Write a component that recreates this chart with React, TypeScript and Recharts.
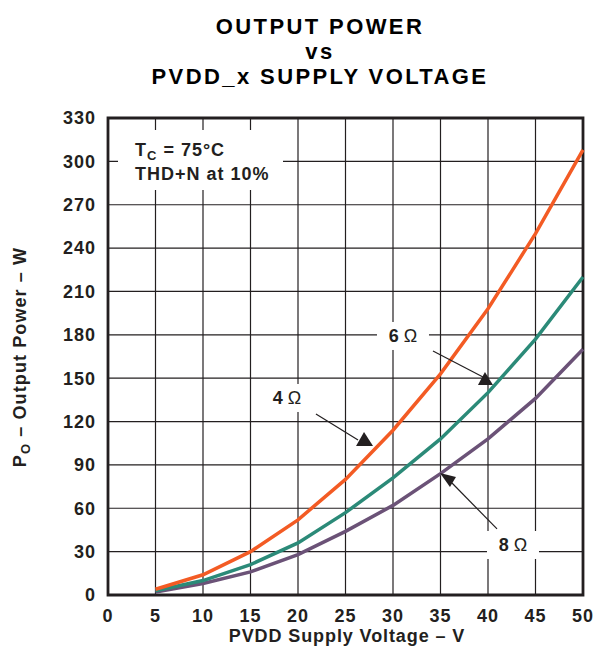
import React from 'react';
import {
  LineChart, Line, XAxis, YAxis, CartesianGrid,
  ReferenceArea, ReferenceLine, ReferenceDot
} from 'recharts';

const FONT = '"Liberation Sans", Arial, Helvetica, sans-serif';

const voltages = [5, 10, 15, 20, 25, 30, 35, 40, 45, 50];
const power4 = [4, 14, 30, 52, 80, 114, 153, 198, 250, 308];
const power6 = [3, 10, 21, 36, 57, 81, 108, 140, 177, 220];
const power8 = [2, 8, 16, 28, 44, 62, 84, 108, 136, 170];

const xTicks = [0, 5, 10, 15, 20, 25, 30, 35, 40, 45, 50];
const yTicks = [0, 30, 60, 90, 120, 150, 180, 210, 240, 270, 300, 330];

const data = voltages.map((v, i) => ({
  v,
  r4: power4[i],
  r6: power6[i],
  r8: power8[i],
}));

// annotation anchors, in data units
const labels = [
  { text: '4', x: 18.84, y: 136.3 },
  { text: '6', x: 31.05, y: 179.2 },
  { text: '8', x: 42.63, y: 34.6 },
];
const leaders = [
  { x1: 21.89, y1: 125.2, x2: 26.32, y2: 107.2 },
  { x1: 34.21, y1: 168.8, x2: 39.47, y2: 150.8 },
  { x1: 40.95, y1: 45.7, x2: 36.21, y2: 77.5 },
];
const heads = [
  { x: 26.95, y: 106.5, pts: '0,-9 -8,5 9,5' },
  { x: 39.68, y: 148.0, pts: '0,-9 -7,4 8,4' },
  { x: 35.89, y: 80.3, pts: '-9,-6 7,-2 1,8' },
];

const labelShape = (text: string) => (props: any) => {
  const { cx, cy } = props;
  return (
    <g>
      <rect x={cx - 26} y={cy - 14} width={52} height={28} fill="#fff" />
      <text x={cx} y={cy + 6} textAnchor="middle" fontFamily={FONT} fontSize={18} fill="#231f20">
        <tspan fontWeight="bold">{text}</tspan>
        <tspan dx={5}>Ω</tspan>
      </text>
    </g>
  );
};

const headShape = (pts: string) => (props: any) => {
  const { cx, cy } = props;
  const p = pts.split(' ').map(s => {
    const [a, b] = s.split(',').map(Number);
    return `${cx + a},${cy + b}`;
  }).join(' ');
  return <polygon points={p} fill="#231f20" />;
};

const tickStyle = { fontFamily: FONT, fontSize: 18, fontWeight: 'bold', fill: '#231f20', letterSpacing: 1 };

export default function App() {
  return (
    <div style={{ position: 'absolute', left: 0, top: 0, width: 595, height: 657, background: '#fff' }}>
      <LineChart
        width={595}
        height={657}
        data={data}
        margin={{ top: 118, right: 12, left: 68, bottom: 32 }}
      >
        <CartesianGrid stroke="#231f20" strokeWidth={1.2} verticalValues={xTicks} horizontalValues={yTicks} />
        <XAxis
          dataKey="v"
          type="number"
          domain={[0, 50]}
          ticks={xTicks}
          axisLine={false}
          tickLine={false}
          height={30}
          tick={tickStyle}
          tickMargin={8}
          interval={0}
        />
        <YAxis
          type="number"
          domain={[0, 330]}
          ticks={yTicks}
          axisLine={false}
          tickLine={false}
          width={40}
          tick={tickStyle}
          tickMargin={6}
          interval={0}
        />
        <ReferenceArea x1={0} x2={50} y1={0} y2={330} fill="none" stroke="#231f20" strokeWidth={2.8} fillOpacity={0} />
        <Line type="linear" dataKey="r8" stroke="#6b5277" strokeWidth={3.5} dot={false} isAnimationActive={false} />
        <Line type="linear" dataKey="r6" stroke="#2b8a78" strokeWidth={3.5} dot={false} isAnimationActive={false} />
        <Line type="linear" dataKey="r4" stroke="#f35b24" strokeWidth={3.5} dot={false} isAnimationActive={false} />
        {leaders.map((l, i) => (
          <ReferenceLine key={`l${i}`} segment={[{ x: l.x1, y: l.y1 }, { x: l.x2, y: l.y2 }]} stroke="#231f20" strokeWidth={1.2} />
        ))}
        {heads.map((h, i) => (
          <ReferenceDot key={`h${i}`} x={h.x} y={h.y} r={1} shape={headShape(h.pts)} />
        ))}
        {labels.map((l, i) => (
          <ReferenceDot key={`t${i}`} x={l.x} y={l.y} r={1} shape={labelShape(l.text)} />
        ))}
      </LineChart>
      <svg width={595} height={657} style={{ position: 'absolute', left: 0, top: 0, pointerEvents: 'none' }}>
        <g fontFamily={FONT} fontWeight="bold" fill="#000" fontSize={22} letterSpacing={2.4} textAnchor="middle">
          <text x={320} y={34}>OUTPUT POWER</text>
          <text x={320} y={59}>vs</text>
          <text x={320} y={84}>PVDD_x SUPPLY VOLTAGE</text>
        </g>
        <rect x={118} y={130} width={165} height={60} fill="#fff" />
        <g fontFamily={FONT} fontWeight="bold" fill="#231f20" fontSize={18} letterSpacing={1}>
          <text x={135} y={156}>
            T<tspan fontSize={13} dy={4}>C</tspan><tspan dy={-4}> = 75°C</tspan>
          </text>
          <text x={135} y={180}>THD+N at 10%</text>
        </g>
        <text x={347} y={642} fontFamily={FONT} fontWeight="bold" fontSize={18} letterSpacing={0.9} fill="#231f20" textAnchor="middle">
          PVDD Supply Voltage – V
        </text>
        <text
          transform="translate(26,357) rotate(-90)"
          fontFamily={FONT}
          fontWeight="bold"
          fontSize={18}
          letterSpacing={1.1}
          fill="#231f20"
          textAnchor="middle"
        >
          P<tspan fontSize={13} dy={4}>O</tspan><tspan dy={-4}> – Output Power – W</tspan>
        </text>
      </svg>
    </div>
  );
}
